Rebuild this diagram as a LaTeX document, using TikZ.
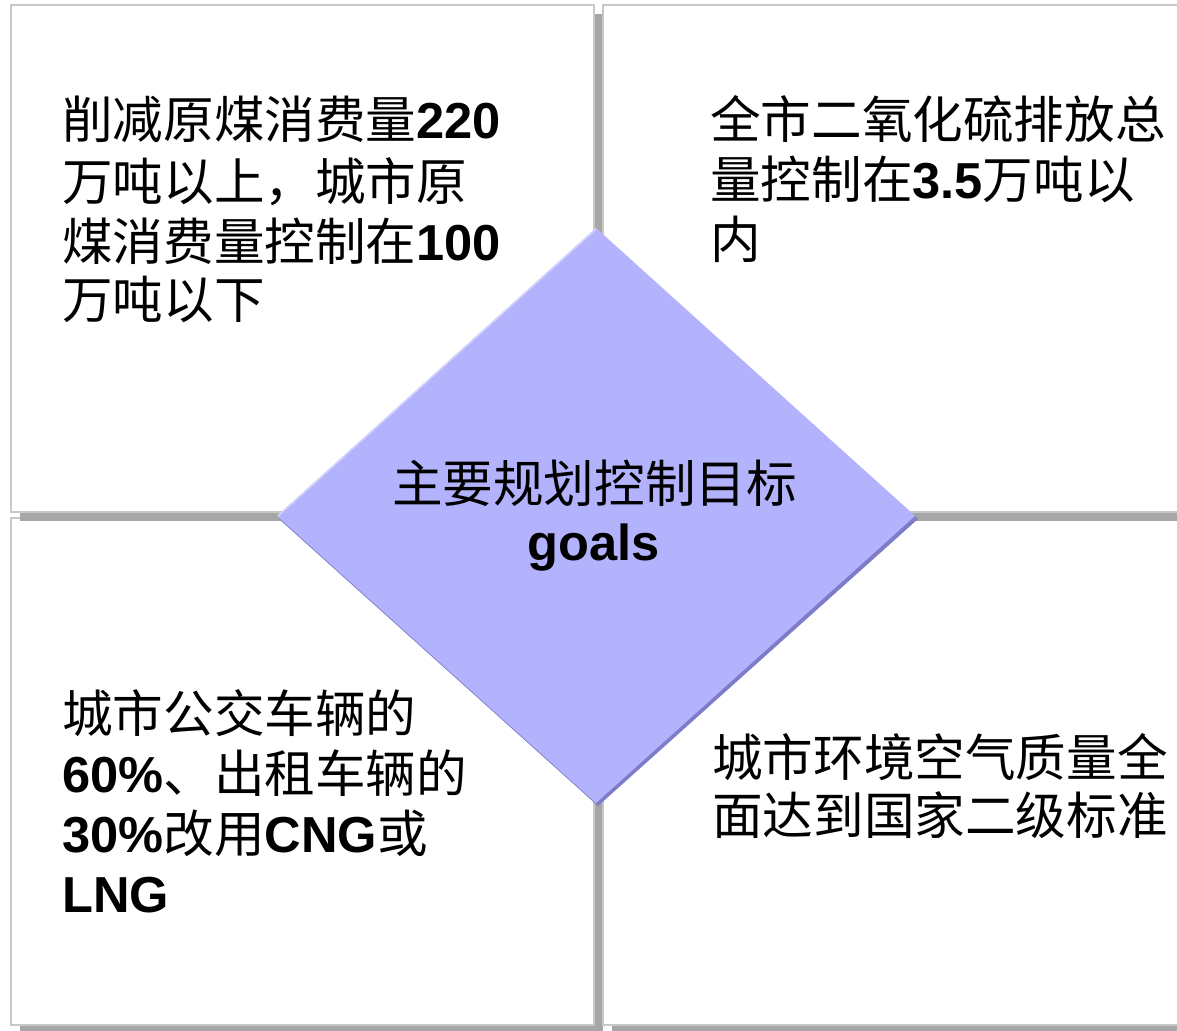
\documentclass[tikz,border=0pt]{standalone}
\usepackage{fontspec}
\setmainfont{Liberation Sans}
\newfontfamily\cjk{Noto Sans CJK SC}
\newcommand\zh[1]{{\cjk #1}}
\newcommand\bn[1]{\textbf{#1}}
\definecolor{boxgray}{HTML}{C8C8C8}
\definecolor{shadowgray}{HTML}{A6A6A6}
\definecolor{diafill}{HTML}{B3B3FD}
\definecolor{diadark}{HTML}{7C7CC8}
\definecolor{dialight}{HTML}{D2D2FF}
\begin{document}
\begin{tikzpicture}[x=1pt,y=-1pt,
  boxline/.style={draw=boxgray, line width=1.5pt, fill=white},
  shadowbox/.style={fill=shadowgray, draw=none},
  txt/.style={anchor=base west, inner sep=0pt, font=\fontsize{50.6}{60}\selectfont},
  ctxt/.style={anchor=base, inner sep=0pt, font=\fontsize{50.6}{60}\selectfont}]
\useasboundingbox (0,0) rectangle (1177,1030);
\fill[white] (0,0) rectangle (1177,1030);
% bottom boxes
\fill[shadowbox] (20,527) rectangle (603,1034);
\draw[boxline] (11,518) rectangle (594,1025);
\fill[shadowbox] (612,527) rectangle (1195,1034);
\draw[boxline] (603,518) rectangle (1186,1025);
% top boxes
\fill[shadowbox] (20,14) rectangle (603,521);
\draw[boxline] (11,5) rectangle (594,512);
\fill[shadowbox] (612,14) rectangle (1195,521);
\draw[boxline] (603,5) rectangle (1186,512);
% diamond
\fill[diadark] (279,519) -- (598,231) -- (918,519) -- (598,806) -- cycle;
\fill[diafill] (277,516) -- (596,228) -- (915,516) -- (596,803) -- cycle;
\draw[dialight, line width=1.5pt] (278,516) -- (596,229);
\coordinate (dc) at (596,516);
% texts top-left
\node[txt] (tl1) at (62,139) {\zh{削减原煤消费量}\bn{220}};
\node[txt] (tl2) at (62,200) {\zh{万吨以上，城市原}};
\node[txt] (tl3) at (62,260) {\zh{煤消费量控制在}\bn{100}};
\node[txt] (tl4) at (62,318) {\zh{万吨以下}};
% top-right
\node[txt] (tr1) at (710,139) {\zh{全市二氧化硫排放总}};
\node[txt] (tr2) at (710,198) {\zh{量控制在}\bn{3.5}\zh{万吨以}};
\node[txt] (tr3) at (710,258) {\zh{内}};
% bottom-left
\node[txt] (bl1) at (62,732) {\zh{城市公交车辆的}};
\node[txt] (bl2) at (62,792) {\bn{60\%}\zh{、出租车辆的}};
\node[txt] (bl3) at (62,852) {\bn{30\%}\zh{改用}\bn{CNG}\zh{或}};
\node[txt] (bl4) at (62,912) {\bn{LNG}};
% bottom-right
\node[txt] (br1) at (712,776) {\zh{城市环境空气质量全}};
\node[txt] (br2) at (712,834) {\zh{面达到国家二级标准}};
% center
\node[ctxt] (c1) at (594.5,502) {\zh{主要规划控制目标}};
\node[ctxt] (c2) at (594,560) {\bn{goals}};
\end{tikzpicture}
\end{document}
